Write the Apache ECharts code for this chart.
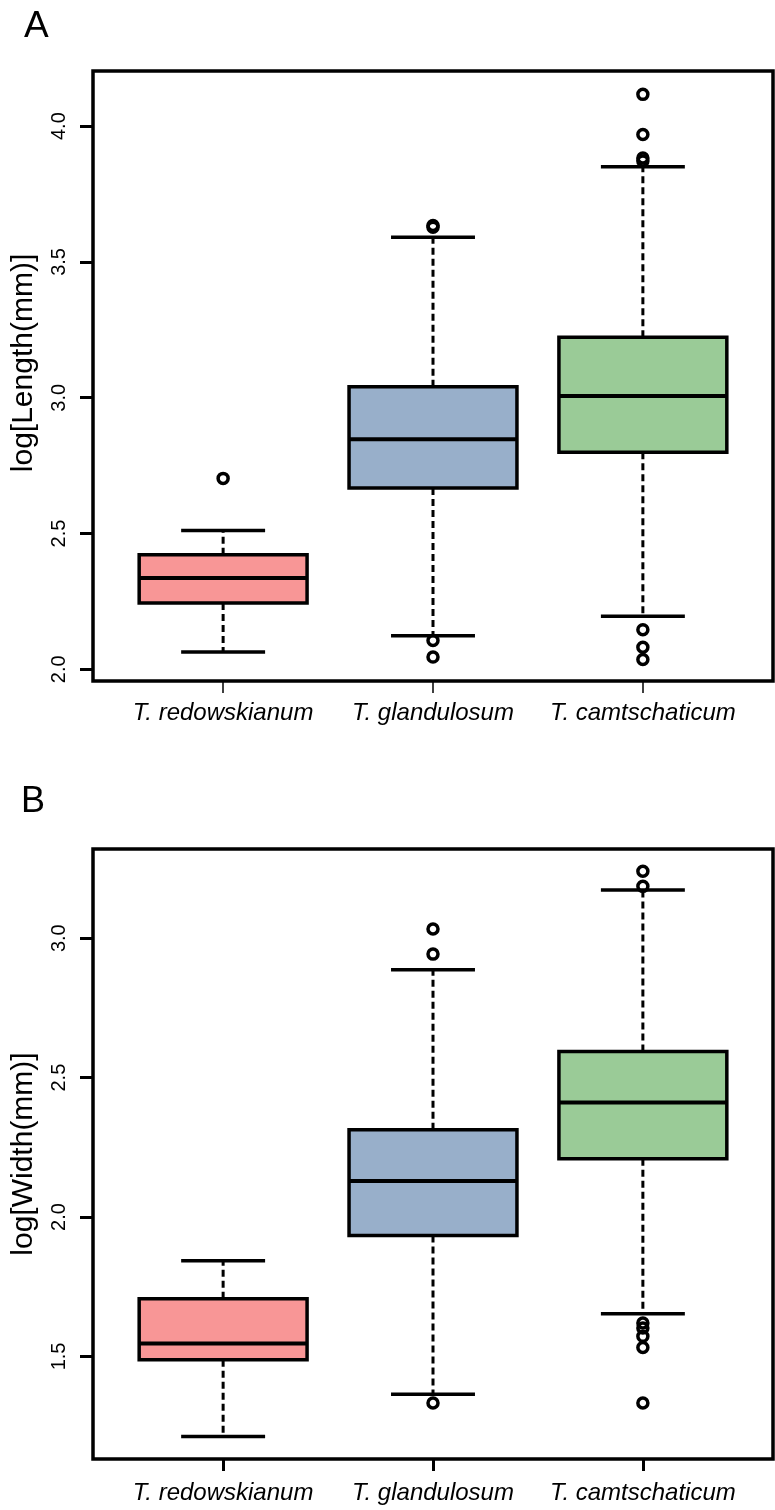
<!DOCTYPE html>
<html>
<head>
<meta charset="utf-8">
<script src="https://cdn.jsdelivr.net/npm/echarts@6/dist/echarts.min.js"></script>
<style>
  html, body { margin: 0; padding: 0; background: #fff; }
  #box-chart { width: 775px; height: 1510px; }
</style>
</head>
<body>
<div id="box-chart"></div>
<script>
var categories = ['T. redowskianum', 'T. glandulosum', 'T. camtschaticum'];
var boxColors = ['#F89696', '#98AFCA', '#9ACB97'];

// [min, Q1, median, Q3, max] per species
var lengthStats = [
    [2.064, 2.244, 2.336, 2.422, 2.511],
    [2.124, 2.668, 2.847, 3.040, 3.591],
    [2.195, 2.799, 3.006, 3.223, 3.850]
];
var lengthOutliers = [
    [2.703],
    [3.628, 3.634, 2.106, 2.045],
    [4.117, 3.969, 3.883, 3.872, 2.146, 2.081, 2.036]
];
var lengthTicks = [2.0, 2.5, 3.0, 3.5, 4.0];

var widthStats = [
    [1.213, 1.488, 1.546, 1.707, 1.843],
    [1.364, 1.934, 2.129, 2.313, 2.887],
    [1.653, 2.209, 2.411, 2.594, 3.173]
];
var widthOutliers = [
    [],
    [3.033, 2.943, 1.333],
    [3.240, 3.186, 1.620, 1.602, 1.572, 1.532, 1.333]
];
var widthTicks = [1.5, 2.0, 2.5, 3.0];

var catTicks = [1, 2, 3];
var fontFamily = '"Liberation Sans", Arial, sans-serif';

function boxData(stats) {
    return stats.map(function (s, i) {
        return [i + 1].concat(s);
    });
}

function outlierData(outs) {
    var res = [];
    outs.forEach(function (list, i) {
        list.forEach(function (v) { res.push([i + 1, v]); });
    });
    return res;
}

// R style box: dashed whiskers, half width staples, thick median
function renderBox(params, api) {
    var x = api.value(0);
    var lo = api.coord([x, api.value(1)]);
    var q1 = api.coord([x, api.value(2)]);
    var md = api.coord([x, api.value(3)]);
    var q3 = api.coord([x, api.value(4)]);
    var hi = api.coord([x, api.value(5)]);
    var band = api.size([1, 0])[0];
    var half = band * 0.4;
    var cap = band * 0.2;
    var cx = md[0];
    var dashStyle = { stroke: '#000', lineWidth: 3, lineDash: [7, 4] };
    var solid = { stroke: '#000', lineWidth: 3.5 };
    return {
        type: 'group',
        children: [
            { type: 'line', shape: { x1: cx, y1: q3[1], x2: cx, y2: hi[1] }, style: dashStyle },
            { type: 'line', shape: { x1: cx, y1: q1[1], x2: cx, y2: lo[1] }, style: dashStyle },
            { type: 'line', shape: { x1: cx - cap, y1: hi[1], x2: cx + cap, y2: hi[1] }, style: solid },
            { type: 'line', shape: { x1: cx - cap, y1: lo[1], x2: cx + cap, y2: lo[1] }, style: solid },
            {
                type: 'rect',
                shape: { x: cx - half, y: q3[1], width: half * 2, height: q1[1] - q3[1] },
                style: { fill: boxColors[params.dataIndex], stroke: '#000', lineWidth: 3.5 }
            },
            { type: 'line', shape: { x1: cx - half, y1: md[1], x2: cx + half, y2: md[1] }, style: { stroke: '#000', lineWidth: 4 } }
        ]
    };
}

function makeYAxis(idx, min, max, ticks, name, namePad) {
    return {
        gridIndex: idx,
        type: 'value',
        min: min,
        max: max,
        name: name,
        nameLocation: 'middle',
        nameGap: 54,
        nameTextStyle: { fontSize: 30, color: '#000', fontFamily: fontFamily, padding: namePad },
        axisLine: { show: false },
        splitLine: { show: false },
        axisTick: { show: true, length: 13, lineStyle: { color: '#000', width: 3 }, customValues: ticks },
        axisLabel: {
            rotate: 90, margin: 24, fontSize: 20, color: '#000', fontFamily: fontFamily,
            customValues: ticks,
            formatter: function (v) { return v.toFixed(1); }
        }
    };
}

function makeXAxis(idx, tickWidth, margin) {
    return {
        gridIndex: idx,
        type: 'value',
        min: 0.38,
        max: 3.62,
        axisLine: { show: false },
        splitLine: { show: false },
        axisTick: { show: true, length: 12, lineStyle: { color: '#000', width: tickWidth }, customValues: catTicks },
        axisLabel: {
            margin: margin, fontSize: 24, fontStyle: 'italic', color: '#000', fontFamily: fontFamily,
            customValues: catTicks,
            formatter: function (v) { return categories[Math.round(v) - 1]; }
        }
    };
}

var outlierStyle = { color: 'rgba(0,0,0,0)', borderColor: '#000', borderWidth: 3.5, opacity: 1 };

var myChart = echarts.init(document.getElementById('box-chart'));

var option = {
    animation: false,
    backgroundColor: '#fff',
    title: [
        { text: 'A', left: 19, top: 3, textStyle: { fontSize: 37, fontWeight: 'normal', color: '#000', fontFamily: fontFamily } },
        { text: 'B', left: 16, top: 779, textStyle: { fontSize: 36, fontWeight: 'normal', color: '#000', fontFamily: fontFamily } }
    ],
    grid: [
        { left: 93, top: 71, width: 680, height: 610, show: true, borderColor: '#000', borderWidth: 3.5, backgroundColor: 'transparent' },
        { left: 93, top: 849, width: 680, height: 610, show: true, borderColor: '#000', borderWidth: 3.5, backgroundColor: 'transparent' }
    ],
    xAxis: [
        makeXAxis(0, 1.5, 20),
        makeXAxis(1, 3, 22)
    ],
    yAxis: [
        makeYAxis(0, 1.957, 4.203, lengthTicks, 'log[Length(mm)]', [0, 0, 0, 26]),
        makeYAxis(1, 1.132, 3.320, widthTicks, 'log[Width(mm)]', 0)
    ],
    series: [
        {
            name: 'length',
            type: 'custom',
            xAxisIndex: 0,
            yAxisIndex: 0,
            renderItem: renderBox,
            encode: { x: 0, y: [1, 2, 3, 4, 5] },
            data: boxData(lengthStats)
        },
        {
            name: 'length outliers',
            type: 'scatter',
            xAxisIndex: 0,
            yAxisIndex: 0,
            symbol: 'circle',
            symbolSize: 10,
            itemStyle: outlierStyle,
            z: 5,
            data: outlierData(lengthOutliers)
        },
        {
            name: 'width',
            type: 'custom',
            xAxisIndex: 1,
            yAxisIndex: 1,
            renderItem: renderBox,
            encode: { x: 0, y: [1, 2, 3, 4, 5] },
            data: boxData(widthStats)
        },
        {
            name: 'width outliers',
            type: 'scatter',
            xAxisIndex: 1,
            yAxisIndex: 1,
            symbol: 'circle',
            symbolSize: 10,
            itemStyle: outlierStyle,
            z: 5,
            data: outlierData(widthOutliers)
        }
    ]
};

myChart.setOption(option);
</script>
</body>
</html>
